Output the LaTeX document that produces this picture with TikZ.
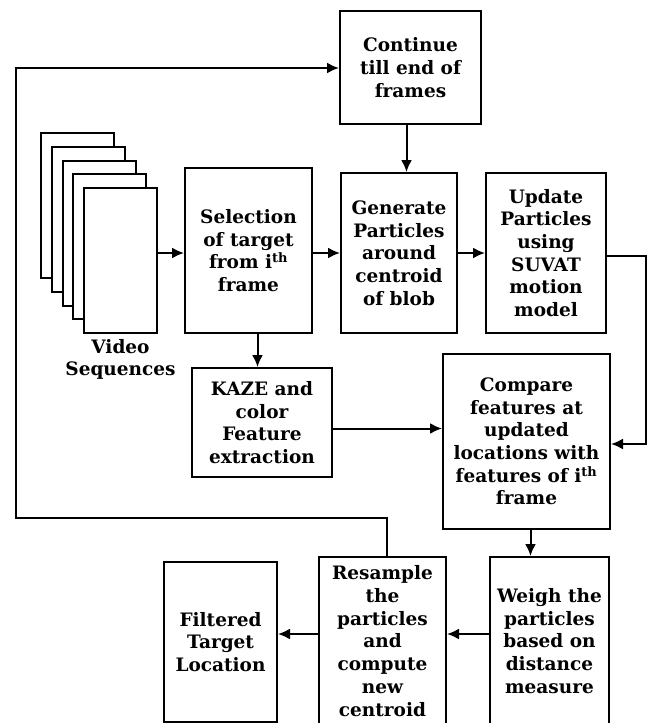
\documentclass[tikz,border=0pt]{standalone}
\usepackage{fontspec}
\setmainfont{DejaVu Serif}
\usetikzlibrary{positioning,arrows.meta}

\begin{document}
\begin{tikzpicture}[x=1pt,y=-1pt,
    box/.style={draw,line width=2pt,fill=white,align=center,inner sep=2pt,
      font=\bfseries\fontsize{18.5}{22.7}\selectfont},
    frame/.style={draw,line width=2pt,fill=white,minimum width=73pt,minimum height=145pt,inner sep=0pt},
    arr/.style={line width=2pt,-{Latex[length=12pt,width=11pt]}}]
    \useasboundingbox (0,0) rectangle (650,723);
    \clip (0,0) rectangle (650,723);

    \foreach \k in {0,...,4}
      \node[frame] (f\k) at ({77.5+10.75*\k},{205.5+13.75*\k}) {};
    \node[box,draw=none,fill=none,below=2pt of f4] (vid) {Video\\Sequences};

    \node[box,minimum width=141pt,minimum height=113pt] (cont) at (410.5,67.5) {Continue\\till end of\\frames};
    \node[box,minimum width=127pt,minimum height=165pt] (sel) at (248.5,250.5) {Selection\\of target\\from i\textsuperscript{th}\\frame};
    \node[box,minimum width=116pt,minimum height=160pt] (gen) at (399,253) {Generate\\Particles\\around\\centroid\\of blob};
    \node[box,minimum width=120pt,minimum height=160pt] (upd) at (546,253) {Update\\Particles\\using\\SUVAT\\motion\\model};
    \node[box,minimum width=140pt,minimum height=109pt] (kaze) at (262,422.5) {KAZE and\\color\\Feature\\extraction};
    \node[box,minimum width=167pt,minimum height=175pt] (comp) at (526.5,441.5) {Compare\\features at\\updated\\locations with\\features of i\textsuperscript{th}\\frame};
    \node[box,minimum width=119pt,minimum height=168pt] (weigh) at (549.5,641) {Weigh the\\particles\\based on\\distance\\measure};
    \node[box,minimum width=127pt,minimum height=168pt] (res) at (382.5,641) {Resample\\the\\particles\\and\\compute\\new\\centroid};
    \node[box,minimum width=113pt,minimum height=160pt] (filt) at (220.5,642) {Filtered\\Target\\Location};

    \coordinate (r1) at (646,256);
    \coordinate (r2) at (646,444);
    \coordinate (l1) at (16,518);
    \coordinate (l2) at (16,68);

    \draw[arr] (f4.east |- 0,253) -- (sel.west |- 0,253);
    \draw[arr] (sel.east |- gen) -- (gen.west);
    \draw[arr] (gen.east) -- (upd.west);
    \draw[arr] ([xshift=-4pt]cont.south) -- ([xshift=-4pt]cont.south |- gen.north);
    \draw[arr] ([xshift=9pt]sel.south) -- ([xshift=9pt]sel.south |- kaze.north);
    \draw[arr] ([yshift=-6pt]kaze.east) -- ([yshift=-6pt]kaze.east -| comp.west);
    \draw[arr] (upd.east |- r1) -- (r1) -- (r2) -- (r2 -| comp.east);
    \draw[arr] ([xshift=4pt]comp.south) -- ([xshift=4pt]comp.south |- weigh.north);
    \draw[arr] ([yshift=7pt]weigh.west) -- ([yshift=7pt]res.east);
    \draw[arr] ([yshift=7pt]res.west) -- ([yshift=7pt]res.west -| filt.east);
    \draw[arr] ([xshift=4pt]res.north) |- (l1) -- (l2) -- (l2 -| cont.west);
  \end{tikzpicture}
\end{document}
